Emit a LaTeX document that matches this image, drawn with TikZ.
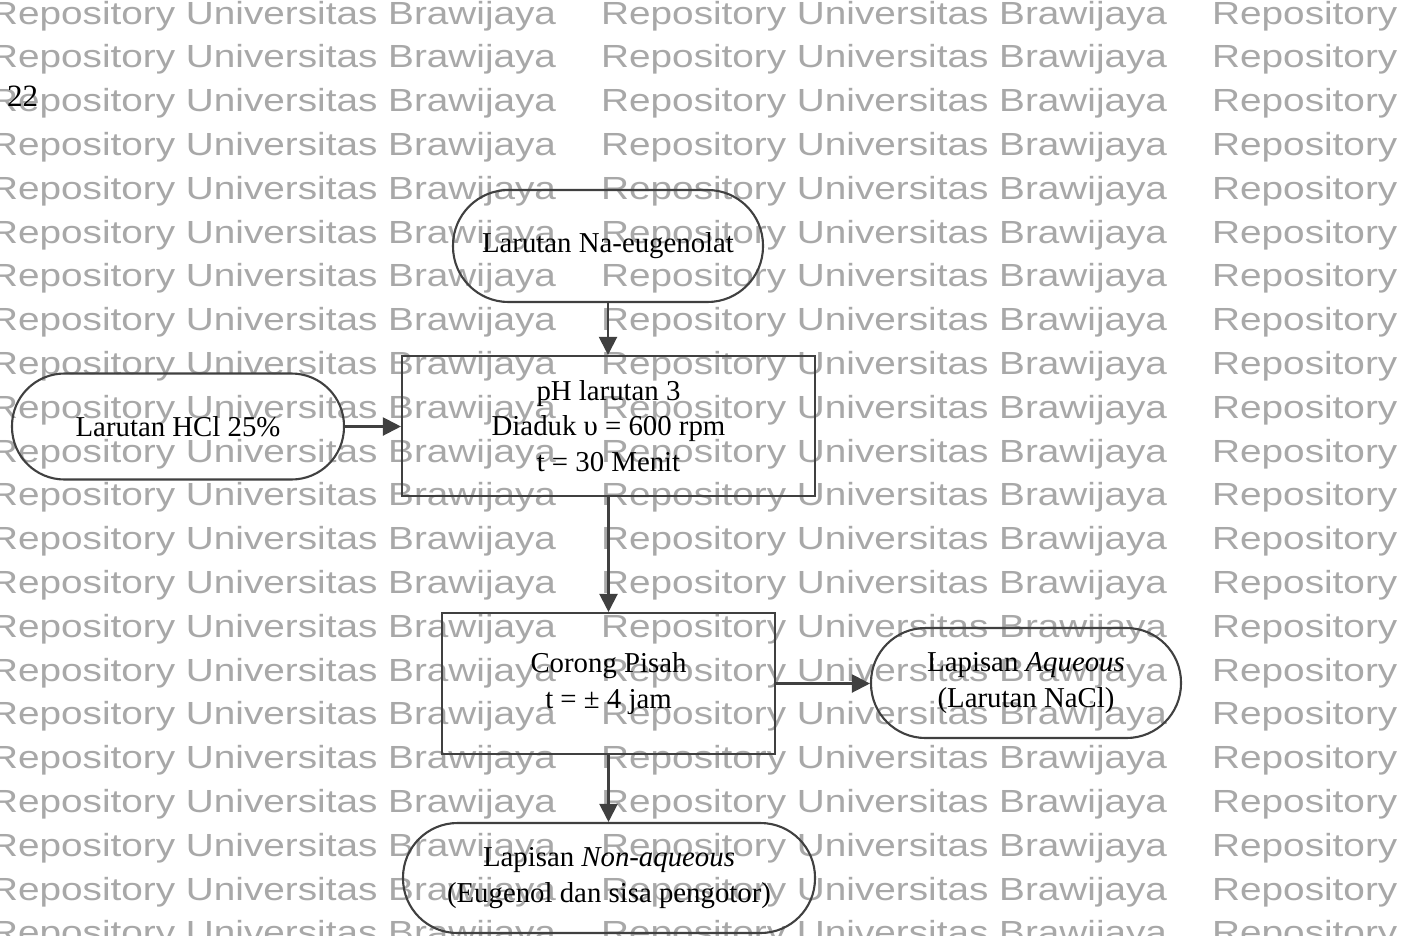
\documentclass[tikz,border=0pt]{standalone}
\usepackage{fontspec}
\setmainfont{Liberation Serif}
\newfontfamily\wmfont{Liberation Sans}
\usetikzlibrary{arrows.meta}
\definecolor{wmgray}{RGB}{168,168,168}
\definecolor{linegray}{RGB}{64,64,64}
\tikzset{
  wm/.style={anchor=base west, inner sep=0pt, text=wmgray, font=\wmfont\fontsize{32}{34}\selectfont},
  txt/.style={align=center, inner sep=0pt, font=\fontsize{28.8}{35.5}\selectfont},
  term/.style={txt, draw=linegray, line width=2.1pt, rounded corners=#1},
  proc/.style={txt, draw=linegray, line width=2.1pt},
  arr/.style={draw=linegray, line width=2.1pt, -{Triangle[length=18pt,width=18pt]}}
}
\begin{document}
\begin{tikzpicture}[x=1pt, y=-1pt]
\useasboundingbox (0,0) rectangle (1404,935);
\fill[white] (0,0) rectangle (1404,935);
\begin{scope}
\clip (0,0) rectangle (1404,935);
\foreach \r in {0,...,21} {
  \foreach \c/\t [count=\k] in {-10/Repository Universitas Brawijaya, 601/Repository Universitas Brawijaya, 1212/Repository} {
    \node[wm] (wm-\r-\k) at (\c, {24+43.8*\r}) {\scalebox{1.21}[1]{\t}};
  }
}
\end{scope}

\node[anchor=base west, inner sep=0pt, font=\fontsize{31}{32}\selectfont] (page) at (7,106) {22};

\node[term=55.5pt, minimum width=310pt, minimum height=112pt] (top) at (608,246) {Larutan Na-eugenolat};
\node[proc, minimum width=413pt, minimum height=140pt] (mix) at (608.5,426) {pH larutan 3\\Diaduk υ = 600 rpm\\t = 30 Menit};
\node[term=52.5pt, minimum width=332pt, minimum height=106pt] (hcl) at (178,426.5) {Larutan HCl 25\%};
\node[proc, minimum width=333pt, minimum height=141pt] (sep) at (608.5,683.5) {Corong Pisah\\t = ± 4 jam};
\node[term=54.5pt, minimum width=310pt, minimum height=110pt] (aq) at (1026,683) {Lapisan \textit{Aqueous}\\(Larutan NaCl)};
\node[term=54.5pt, minimum width=412pt, minimum height=110pt] (org) at (609,878) {Lapisan \textit{Non-aqueous}\\(Eugenol dan sisa pengotor)};

\draw[arr] (top.south) -- (top.south |- mix.north);
\draw[arr] (hcl.east) -- (hcl.east -| mix.west);
\draw[arr] (mix.south) -- (mix.south |- sep.north);
\draw[arr] (sep.east) -- (sep.east -| aq.west);
\draw[arr] (sep.south) -- (sep.south |- org.north);
\end{tikzpicture}
\end{document}
